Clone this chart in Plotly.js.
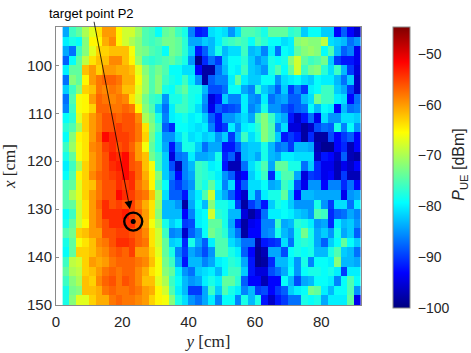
<!DOCTYPE html>
<html>
<head>
<meta charset="utf-8">
<script src="https://cdn.plot.ly/plotly-3.0.1.min.js"></script>
<style>
html, body { margin: 0; padding: 0; background: #fff; }
</style>
</head>
<body>
<div id="chart" style="width:471px;height:353px;"></div>
<script>
// cell centres in cm, 2 cm grid
var yPos = [3,5,7,9,11,13,15,17,19,21,23,25,27,29,31,33,35,37,39,41,43,45,47,49,51,53,55,57,59,61,63,65,67,69,71,73,75,77,79,81,83,85,87,89,91];
var xPos = [93,95,97,99,101,103,105,107,109,111,113,115,117,119,121,123,125,127,129,131,133,135,137,139,141,143,145,147,149];

// P_UE in dBm, one row per xPos
var pUE = [
[-84,-76,-74,-70,-67,-64,-60,-60,-65,-68,-68,-71,-75,-76,-79,-74,-73,-76,-78,-86,-92,-91,-81,-80,-81,-85,-81,-75,-75,-76,-78,-74,-74,-74,-77,-76,-82,-79,-79,-82,-82,-93,-88,-93,-96],
[-80,-78,-79,-72,-65,-65,-61,-59,-65,-68,-70,-72,-75,-76,-75,-73,-73,-74,-77,-84,-84,-82,-83,-80,-77,-76,-75,-76,-79,-75,-77,-79,-79,-81,-80,-72,-71,-72,-72,-69,-81,-82,-83,-87,-85],
[-84,-87,-76,-72,-67,-63,-63,-62,-62,-62,-66,-72,-73,-75,-76,-79,-73,-74,-77,-82,-92,-88,-83,-78,-83,-81,-81,-76,-83,-82,-86,-80,-87,-79,-80,-74,-72,-71,-72,-79,-75,-83,-88,-86,-94],
[-88,-79,-74,-69,-64,-62,-62,-59,-59,-62,-65,-71,-76,-77,-76,-75,-74,-76,-78,-85,-99,-91,-87,-90,-82,-79,-79,-77,-82,-85,-83,-78,-79,-78,-72,-68,-74,-76,-75,-73,-82,-90,-92,-92,-94],
[-80,-74,-74,-62,-60,-63,-60,-60,-61,-61,-62,-67,-72,-75,-73,-75,-79,-79,-81,-81,-93,-98,-98,-87,-83,-79,-80,-76,-82,-83,-85,-78,-75,-79,-74,-68,-76,-73,-72,-77,-81,-76,-83,-90,-95],
[-87,-72,-74,-65,-60,-58,-57,-57,-58,-61,-61,-66,-71,-75,-72,-76,-78,-79,-76,-80,-85,-98,-88,-86,-86,-80,-74,-80,-82,-82,-79,-79,-85,-81,-80,-79,-81,-82,-79,-80,-80,-83,-87,-82,-96],
[-82,-76,-72,-63,-62,-58,-59,-58,-59,-62,-62,-67,-71,-75,-72,-78,-79,-76,-74,-78,-78,-83,-89,-89,-87,-79,-79,-84,-86,-77,-82,-84,-88,-82,-90,-86,-90,-80,-79,-76,-76,-82,-84,-90,-96],
[-87,-75,-66,-65,-60,-57,-58,-59,-58,-59,-64,-68,-73,-76,-77,-85,-78,-78,-76,-78,-79,-85,-95,-92,-82,-86,-86,-80,-85,-86,-80,-87,-85,-84,-88,-88,-83,-81,-73,-76,-76,-80,-81,-93,-87],
[-86,-76,-66,-65,-63,-57,-57,-58,-58,-57,-58,-65,-72,-75,-82,-87,-80,-76,-76,-78,-81,-86,-94,-88,-90,-89,-88,-80,-86,-84,-78,-85,-85,-88,-90,-88,-87,-79,-83,-79,-80,-93,-83,-87,-86],
[-79,-77,-67,-63,-60,-58,-56,-56,-57,-56,-56,-59,-70,-73,-78,-86,-80,-79,-78,-80,-79,-82,-88,-92,-85,-85,-83,-81,-84,-75,-72,-76,-82,-84,-92,-96,-92,-87,-94,-81,-85,-85,-81,-81,-82],
[-77,-75,-70,-63,-60,-58,-56,-56,-55,-56,-56,-58,-64,-72,-76,-88,-91,-79,-79,-80,-81,-80,-86,-92,-90,-80,-85,-80,-79,-77,-72,-75,-86,-81,-95,-95,-98,-96,-89,-87,-88,-78,-86,-79,-85],
[-79,-72,-65,-64,-60,-57,-52,-54,-55,-55,-56,-58,-63,-73,-78,-85,-85,-81,-78,-81,-80,-82,-81,-85,-82,-90,-83,-76,-81,-78,-72,-75,-82,-92,-90,-92,-98,-91,-98,-98,-89,-93,-90,-88,-93],
[-76,-71,-66,-64,-59,-58,-55,-54,-56,-55,-57,-60,-66,-74,-78,-84,-92,-85,-78,-78,-82,-87,-84,-84,-92,-92,-88,-83,-82,-82,-78,-83,-87,-86,-90,-83,-83,-84,-97,-99,-99,-93,-91,-97,-93],
[-78,-74,-66,-64,-60,-58,-56,-53,-54,-52,-56,-60,-62,-73,-76,-82,-95,-87,-86,-80,-84,-84,-83,-78,-91,-88,-96,-83,-82,-84,-78,-83,-84,-80,-80,-81,-81,-81,-96,-92,-93,-96,-88,-97,-98],
[-80,-76,-70,-63,-60,-58,-56,-54,-53,-52,-56,-57,-62,-66,-76,-82,-89,-97,-86,-83,-76,-77,-80,-79,-92,-97,-97,-87,-81,-78,-75,-84,-74,-74,-78,-78,-87,-82,-91,-94,-94,-97,-94,-96,-93],
[-79,-75,-65,-63,-59,-57,-56,-55,-54,-52,-54,-57,-61,-65,-72,-82,-86,-93,-86,-84,-76,-77,-78,-80,-85,-88,-95,-93,-82,-79,-76,-91,-79,-75,-75,-84,-95,-90,-91,-94,-93,-97,-90,-97,-97],
[-75,-74,-67,-63,-62,-58,-56,-56,-54,-55,-54,-58,-60,-65,-74,-79,-88,-90,-87,-85,-76,-78,-74,-79,-86,-81,-93,-88,-81,-81,-79,-84,-83,-76,-78,-89,-94,-85,-85,-93,-86,-86,-91,-87,-93],
[-75,-70,-67,-63,-60,-58,-56,-56,-52,-54,-55,-57,-58,-62,-70,-81,-88,-88,-92,-83,-80,-75,-68,-81,-84,-88,-93,-96,-81,-87,-80,-78,-78,-74,-82,-93,-83,-83,-84,-84,-84,-84,-94,-85,-84],
[-75,-74,-68,-64,-60,-57,-54,-56,-55,-56,-55,-58,-61,-64,-71,-83,-83,-85,-98,-84,-79,-83,-72,-78,-78,-80,-90,-98,-90,-87,-92,-82,-78,-79,-82,-85,-85,-85,-78,-85,-90,-81,-81,-87,-80],
[-79,-76,-68,-64,-60,-58,-54,-54,-54,-53,-55,-57,-60,-64,-72,-83,-83,-83,-93,-86,-80,-79,-68,-77,-78,-83,-83,-95,-98,-95,-87,-80,-80,-79,-80,-82,-83,-85,-75,-76,-91,-88,-87,-84,-86],
[-78,-74,-68,-65,-60,-58,-56,-54,-54,-54,-54,-57,-60,-66,-70,-78,-82,-80,-90,-89,-80,-79,-74,-74,-78,-84,-92,-98,-94,-93,-86,-86,-76,-84,-83,-77,-78,-80,-85,-84,-91,-80,-83,-82,-85],
[-75,-73,-63,-62,-60,-60,-56,-56,-55,-55,-56,-57,-59,-64,-68,-76,-86,-85,-96,-88,-85,-79,-73,-75,-77,-83,-87,-98,-93,-93,-86,-85,-78,-83,-85,-78,-73,-78,-84,-82,-85,-78,-84,-82,-88],
[-78,-74,-66,-64,-62,-59,-58,-56,-54,-54,-55,-57,-58,-64,-68,-74,-82,-81,-91,-78,-84,-88,-80,-75,-75,-81,-83,-87,-87,-98,-92,-91,-90,-81,-87,-78,-77,-78,-84,-88,-82,-79,-74,-79,-82],
[-79,-74,-63,-63,-62,-60,-59,-57,-56,-57,-55,-60,-60,-63,-67,-74,-78,-86,-90,-84,-86,-89,-85,-75,-75,-78,-80,-88,-93,-99,-97,-84,-84,-89,-79,-78,-79,-78,-83,-83,-78,-75,-82,-83,-87],
[-76,-69,-68,-63,-60,-61,-60,-58,-57,-57,-57,-58,-59,-62,-66,-73,-76,-84,-92,-83,-83,-86,-84,-80,-79,-77,-78,-84,-92,-99,-98,-91,-83,-83,-80,-85,-78,-86,-79,-79,-80,-72,-83,-83,-84],
[-74,-70,-69,-63,-62,-60,-58,-57,-58,-57,-57,-59,-61,-64,-66,-72,-74,-80,-85,-87,-82,-81,-80,-83,-79,-76,-76,-82,-92,-95,-95,-89,-87,-84,-79,-85,-79,-78,-78,-79,-78,-80,-90,-80,-80],
[-76,-72,-70,-62,-63,-59,-57,-56,-58,-56,-57,-59,-62,-62,-67,-70,-76,-79,-83,-85,-84,-80,-78,-80,-74,-74,-77,-88,-93,-93,-97,-93,-93,-79,-83,-89,-84,-83,-79,-79,-80,-86,-79,-75,-79],
[-78,-73,-72,-62,-62,-61,-58,-57,-58,-58,-57,-58,-60,-61,-65,-68,-75,-80,-83,-90,-90,-84,-76,-82,-75,-78,-80,-86,-83,-90,-89,-93,-90,-88,-82,-80,-79,-73,-74,-80,-83,-79,-79,-75,-85],
[-78,-72,-67,-67,-63,-61,-61,-58,-57,-58,-58,-59,-60,-63,-65,-66,-72,-78,-81,-85,-87,-84,-80,-86,-79,-79,-86,-78,-83,-78,-92,-96,-92,-90,-87,-87,-78,-79,-78,-84,-80,-80,-80,-74,-94]
];

var tickY = [0,20,40,60,80];
var tickX = [100,110,120,130,140,150];
var tickP = [-100,-90,-80,-70,-60,-50];

// target point P2
var targetY = [23.3];
var targetX = [132.6];

var jet = [
  [0, '#00007f'], [0.125, '#0000ff'], [0.375, '#00ffff'],
  [0.5, '#80ff80'], [0.625, '#ffff00'], [0.875, '#ff0000'], [1, '#7f0000']
];

var axisColor = '#8a8a8a';
var sans = 'Liberation Sans, Arial, sans-serif';
var tickFont = {family: sans, size: 15, color: '#262626'};
var labelFont = {family: 'Liberation Serif, Times New Roman, serif', size: 17, color: '#262626'};

var map = {
  type: 'heatmap',
  x: yPos,
  y: xPos,
  z: pUE,
  zmin: -100,
  zmax: -44.7,
  colorscale: jet,
  hoverinfo: 'skip',
  colorbar: {
    thicknessmode: 'pixels', thickness: 17,
    lenmode: 'pixels', len: 281,
    x: 1.104, xanchor: 'left', xpad: 0,
    y: 1, yanchor: 'top', ypad: 0,
    outlinecolor: axisColor, outlinewidth: 1,
    tickmode: 'array', tickvals: tickP,
    ticks: 'outside', ticklen: 5, tickcolor: 'rgba(0,0,0,0)',
    tickfont: {family: sans, size: 14, color: '#262626'}
  }
};

var ring = {
  type: 'scatter', mode: 'markers', x: targetY, y: targetX, hoverinfo: 'skip',
  marker: {symbol: 'circle-open', size: 18, color: '#000', line: {width: 2.4, color: '#000'}}
};
var dot = {
  type: 'scatter', mode: 'markers', x: targetY, y: targetX, hoverinfo: 'skip',
  marker: {symbol: 'circle', size: 5, color: '#000'}
};

var layout = {
  width: 471, height: 353,
  margin: {l: 56, r: 109.7, t: 26.5, b: 48, autoexpand: false},
  paper_bgcolor: '#fff', plot_bgcolor: '#fff',
  showlegend: false,
  xaxis: {
    range: [0, 92], tickmode: 'array', tickvals: tickY, ticks: 'inside', ticklen: 3,
    tickcolor: axisColor, showline: true, linecolor: axisColor, mirror: true,
    layer: 'below traces', showgrid: false, zeroline: false, tickfont: tickFont,
    ticklabelstandoff: 3,
    title: {text: '<i>y</i> [cm]', font: labelFont, standoff: 6}
  },
  yaxis: {
    range: [150, 92], tickmode: 'array', tickvals: tickX, ticks: 'inside', ticklen: 3,
    tickcolor: axisColor, showline: true, linecolor: axisColor, mirror: true,
    layer: 'below traces', showgrid: false, zeroline: false, tickfont: tickFont,
    title: {text: '<i>x</i> [cm]', font: labelFont, standoff: 8}
  },
  annotations: [
    {x: 22.3, y: 130, xref: 'x', yref: 'y', ax: 11.4, ay: 90.6, axref: 'x', ayref: 'y',
     text: '', showarrow: true, arrowhead: 2, arrowsize: 2, arrowwidth: 0.8, arrowcolor: '#000'},
    {x: -0.03, y: 1.0485, xref: 'paper', yref: 'paper', xanchor: 'left', yanchor: 'middle',
     text: 'target point P2', showarrow: false,
     font: {family: sans, size: 13, color: '#000'}},
    // colour bar title, set by hand so it sits clear of the tick labels
    {x: 1.323, y: 0.503, xref: 'paper', yref: 'paper', xanchor: 'center', yanchor: 'middle',
     textangle: -90, text: '<i>P</i><sub>UE</sub> [dBm]', showarrow: false,
     font: {family: sans, size: 16, color: '#262626'}}
  ]
};

Plotly.newPlot('chart', [map, ring, dot], layout, {displayModeBar: false, staticPlot: true});
</script>
</body>
</html>
